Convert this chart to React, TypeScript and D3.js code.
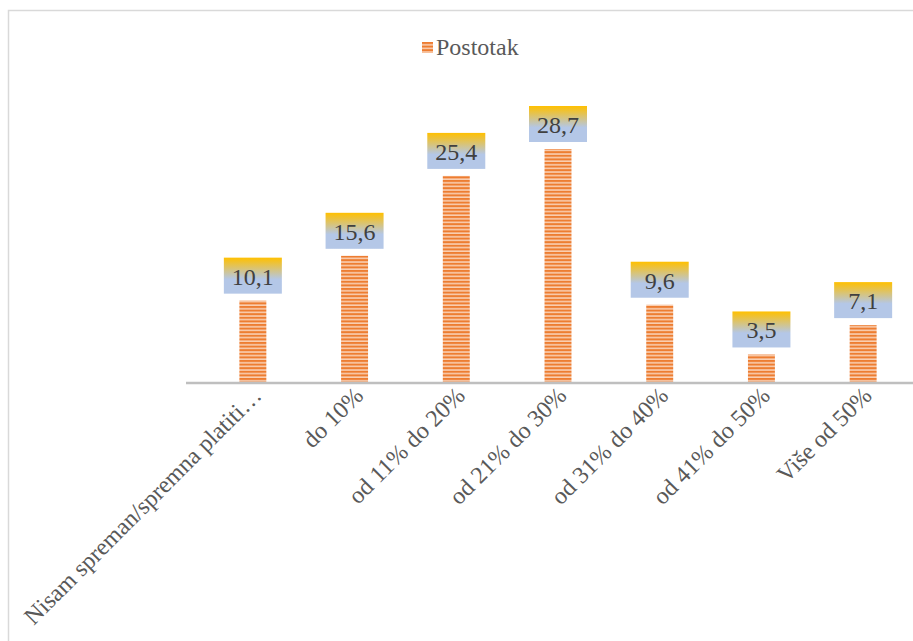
import React from "react";
import * as d3 from "d3";

const categories = [
  "Nisam spreman/spremna platiti…",
  "do 10%",
  "od 11% do 20%",
  "od 21% do 30%",
  "od 31% do 40%",
  "od 41% do 50%",
  "Više od 50%",
];
const values = [10.1, 15.6, 25.4, 28.7, 9.6, 3.5, 7.1];
const seriesName = "Postotak";

const W = 913;
const H = 641;
const font = "Liberation Serif, DejaVu Serif, serif";

const App: React.FC = () => {
  const baseY = 383;
  const x = d3
    .scaleBand<string>()
    .domain(categories)
    .range([202, 914])
    .paddingInner(0.735)
    .paddingOuter(0.3675);
  const y = d3.scaleLinear().domain([0, 28.7]).range([baseY, 149]);
  const fmt = (v: number) => v.toFixed(1).replace(".", ",");

  return (
    <svg width={W} height={H} style={{ position: "absolute", left: 0, top: 0, fontFamily: font }}>
      <defs>
        <pattern id="stripes" width="4" height="3.6" patternUnits="userSpaceOnUse">
          <rect width="4" height="3.6" fill="#ED7D31" />
          <rect y="2.1" width="4" height="1.4" fill="#FBD9C2" />
        </pattern>
        <linearGradient id="lblGrad" x1="0" y1="0" x2="0" y2="1">
          <stop offset="0" stopColor="#FFC000" />
          <stop offset="0.6" stopColor="#B4C7E7" />
          <stop offset="1" stopColor="#B4C7E7" />
        </linearGradient>
      </defs>
      <rect x={0} y={0} width={W} height={H} fill="white" />
      <rect x={8.5} y={10.5} width={W + 10} height={H + 10} fill="none" stroke="#D9D9D9" strokeWidth={1.5} />

      {/* legend */}
      <g transform="translate(422,42)">
        <rect width={11} height={11} fill="url(#stripes)" />
        <text x={14} y={13} style={{ fontFamily: font }} fontSize={24} fill="#595959">
          {seriesName}
        </text>
      </g>

      {/* bars */}
      {categories.map((c, i) => (
        <rect
          key={c}
          x={x(c)!}
          y={y(values[i])}
          width={x.bandwidth()}
          height={baseY - y(values[i])}
          fill="url(#stripes)"
        />
      ))}

      {/* axis */}
      <line x1={186} x2={W} y1={baseY} y2={baseY} stroke="#BFBFBF" strokeWidth={2.5} />

      {/* data labels */}
      {categories.map((c, i) => {
        const cx = x(c)! + x.bandwidth() / 2;
        const top = y(values[i]) - 43;
        return (
          <g key={c + "l"}>
            <rect x={cx - 29} y={top} width={58} height={36} fill="url(#lblGrad)" />
            <text
              x={cx}
              y={top + 27}
              textAnchor="middle"
              style={{ fontFamily: font }}
              fontSize={24}
              fill="#404040"
            >
              {fmt(values[i])}
            </text>
          </g>
        );
      })}

      {/* category labels */}
      {categories.map((c) => {
        const cx = x(c)! + x.bandwidth() / 2;
        return (
          <text
            key={c + "c"}
            transform={`translate(${cx + 10},${baseY + 14}) rotate(-45)`}
            textAnchor="end"
            style={{ fontFamily: font }}
            fontSize={24}
            fill="#595959"
          >
            {c}
          </text>
        );
      })}
    </svg>
  );
};

export default App;
